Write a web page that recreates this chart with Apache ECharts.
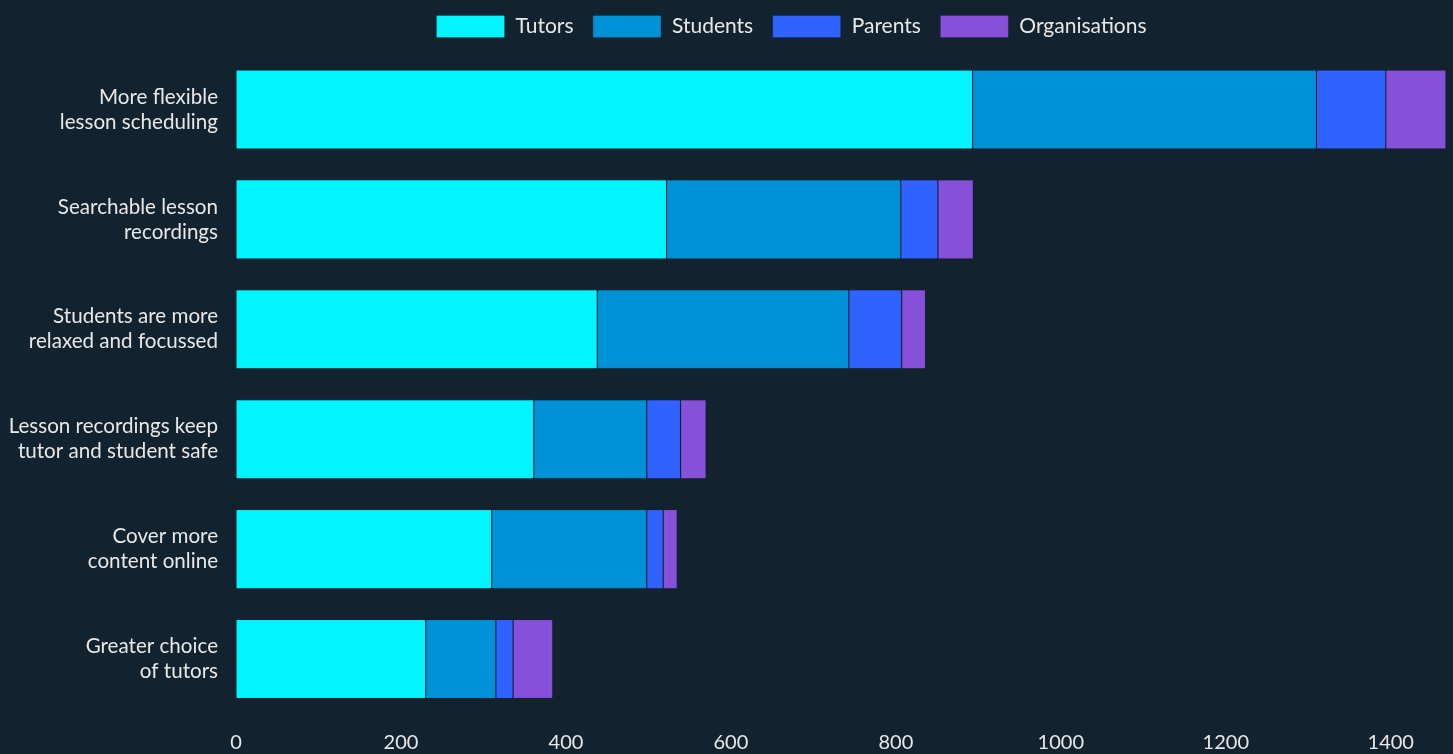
<!DOCTYPE html>
<html><head><meta charset="utf-8">
<style>html,body{margin:0;padding:0;background:#13222f;}#c{width:1453px;height:754px;}</style>
<script src="https://cdn.jsdelivr.net/npm/echarts@6/dist/echarts.min.js"></script>
</head><body><div id="c"></div>
<script>
const categories = ["More flexible\nlesson scheduling","Searchable lesson\nrecordings","Students are more\nrelaxed and focussed","Lesson recordings keep\ntutor and student safe","Cover more\ncontent online","Greater choice\nof tutors"];
const tutors = [893, 522, 438, 361, 310, 230];
const students = [417, 284, 305, 137, 188, 85];
const parents = [84, 45, 64, 41, 20, 21];
const organisations = [73, 43, 29, 31, 17, 48];
const seriesNames = ["Tutors","Students","Parents","Organisations"];
const colors = ["#00f5ff","#0091d6","#3062ff","#8750d9"];
const seriesData = [tutors, students, parents, organisations];

const chart = echarts.init(document.getElementById('c'));
const font = 'Lato, "Noto Sans", sans-serif';
chart.setOption({
  backgroundColor: '#13222f',
  animation: false,
  color: colors,
  legend: {
    top: 10, left: 431, icon: 'rect',
    itemWidth: 68, itemHeight: 22, itemGap: 19,
    textStyle: {color: '#e8e8e8', fontSize: 21, fontFamily: font, padding: [0, 0, 0, 6]},
    itemStyle: {borderColor: 'rgba(0,0,0,0.2)', borderWidth: 1}
  },
  grid: {left: 236, right: 7, top: 54.5, bottom: 40, containLabel: false},
  xAxis: {
    type: 'value', min: 0, max: 'dataMax', interval: 200,
    axisLine: {show: false}, axisTick: {show: false}, splitLine: {show: false},
    axisLabel: {color: '#e8e8e8', fontSize: 20, fontFamily: font, margin: 19, showMaxLabel: false,
      formatter: v => String(v)}
  },
  yAxis: {
    type: 'category', data: categories, inverse: true,
    axisLine: {show: false}, axisTick: {show: false},
    axisLabel: {color: '#e8e8e8', fontSize: 20.6, fontFamily: font, margin: 18, lineHeight: 25, align: 'right'}
  },
  series: seriesNames.map((n, i) => ({
    name: n, type: 'bar', stack: 'total', data: seriesData[i],
    barCategoryGap: '28%',
    itemStyle: {color: colors[i], borderColor: 'rgba(0,0,0,0.08)', borderWidth: 1}
  }))
});
</script></body></html>
